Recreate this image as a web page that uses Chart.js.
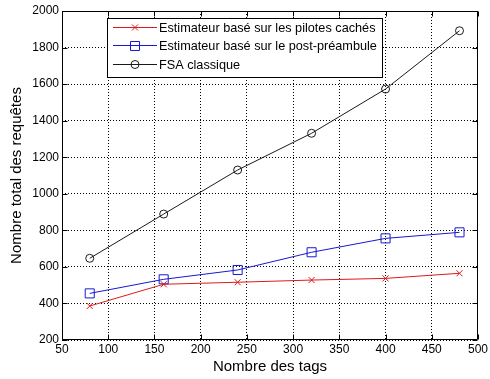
<!DOCTYPE html>
<html>
<head>
<meta charset="utf-8">
<script src="https://cdn.jsdelivr.net/npm/chart.js@4/dist/chart.umd.min.js"></script>
<style>
html,body{margin:0;padding:0;background:#fff;}
canvas{display:block;}
</style>
</head>
<body>
<canvas id="c" width="490" height="379"></canvas>
<script>
const tags = [80, 160, 240, 320, 400, 480];
const pilotesCaches = [386, 505, 516, 528, 537, 565];
const postPreambule = [455, 532, 583, 680, 756, 789];
const fsaClassique = [647, 889, 1130, 1331, 1573, 1892];
const xTicks = [50, 100, 150, 200, 250, 300, 350, 400, 450, 500];
const yTicks = [200, 400, 600, 800, 1000, 1200, 1400, 1600, 1800, 2000];
const seriesLabels = [
  'Estimateur basé sur les pilotes cachés',
  'Estimateur basé sur le post-préambule',
  'FSA classique'
];
const xTitle = 'Nombre des tags';
const yTitle = 'Nombre total des requêtes';

const FONT = "'Liberation Sans', Arial, sans-serif";

function pts(vals){ return tags.map((t,i)=>({x:t, y:vals[i]})); }

function drawMarker(ctx, style, x, y, color){
  ctx.save();
  ctx.strokeStyle = color; ctx.lineWidth = 1;
  ctx.beginPath();
  if (style === 'crossRot') {
    const s = 3;
    ctx.moveTo(x-s,y-s); ctx.lineTo(x+s,y+s);
    ctx.moveTo(x+s,y-s); ctx.lineTo(x-s,y+s);
  } else if (style === 'rect') {
    ctx.rect(Math.round(x)-4.5, Math.round(y)-4.5, 9, 9);
  } else {
    ctx.arc(x, y, 4, 0, Math.PI*2);
  }
  ctx.stroke();
  ctx.restore();
}

const framePlugin = {
  id: 'frame',
  afterDraw(chart){
    const ctx = chart.ctx;
    const a = chart.chartArea;
    const xs = chart.scales.x, ys = chart.scales.y;
    ctx.save();
    ctx.strokeStyle = '#000';
    ctx.lineWidth = 1;
    ctx.beginPath();
    const L = Math.round(a.left)+0.5, R = Math.round(a.right)-0.5, T = Math.round(a.top)+0.5, B = Math.round(a.bottom)-0.5;
    ctx.rect(L, T, R-L, B-T);
    const tl = 5;
    xTicks.forEach(v=>{
      const px = Math.round(xs.getPixelForValue(v))+0.5;
      ctx.moveTo(px, B); ctx.lineTo(px, B-tl);
      ctx.moveTo(px, T); ctx.lineTo(px, T+tl);
    });
    yTicks.forEach(v=>{
      const py = Math.round(ys.getPixelForValue(v))+0.5;
      ctx.moveTo(L, py); ctx.lineTo(L+tl, py);
      ctx.moveTo(R, py); ctx.lineTo(R-tl, py);
    });
    ctx.stroke();

    // legend
    const lx = 107.5, ly = 18.5, lw = 275, lh = 59;
    ctx.fillStyle = '#fff';
    ctx.fillRect(lx, ly, lw, lh);
    ctx.strokeRect(lx, ly, lw, lh);
    const rows = [27.5, 45.5, 64.5];
    ctx.font = '12.7px ' + FONT;
    ctx.textBaseline = 'middle';
    ctx.textAlign = 'left';
    chart.data.datasets.forEach((ds, i)=>{
      const y = rows[i];
      ctx.strokeStyle = ds.borderColor;
      ctx.lineWidth = 1;
      ctx.beginPath();
      ctx.moveTo(113, y); ctx.lineTo(157, y);
      ctx.stroke();
      drawMarker(ctx, ds.pointStyle, 135, y, ds.borderColor);
      ctx.fillStyle = '#000';
      ctx.fillText(ds.label, 159, y + 0.5);
    });
    ctx.restore();
  }
};

new Chart(document.getElementById('c'), {
  type: 'line',
  data: {
    datasets: [
      { label: seriesLabels[0], data: pts(pilotesCaches), borderColor: '#e01818', pointStyle: 'crossRot', pointRadius: 4.3 },
      { label: seriesLabels[1], data: pts(postPreambule), borderColor: '#1818d0', pointStyle: 'rect', pointRadius: 6.4 },
      { label: seriesLabels[2], data: pts(fsaClassique), borderColor: '#1a1a1a', pointStyle: 'circle', pointRadius: 4 }
    ].map(d => Object.assign({
      borderWidth: 1, pointBorderWidth: 1, pointBackgroundColor: 'rgba(0,0,0,0)',
      pointBorderColor: d.borderColor, tension: 0, fill: false, pointHoverRadius: d.pointRadius
    }, d))
  },
  options: {
    responsive: false,
    devicePixelRatio: 1,
    animation: false,
    events: [],
    layout: { padding: { top: 11, right: 10, left: 0, bottom: 0 } },
    plugins: { legend: { display: false }, tooltip: { enabled: false } },
    scales: {
      x: {
        type: 'linear', min: 50, max: 500,
        afterFit: s => { s.height = 39; },
        afterBuildTicks: s => { s.ticks = xTicks.map(v=>({value:v})); },
        ticks: { color: '#000', font: { family: FONT, size: 12 }, padding: 2, maxRotation: 0, autoSkip: false, callback: v => String(v) },
        grid: { color: '#000', lineWidth: 1, drawTicks: false },
        border: { display: false, dash: [1,2] },
        title: { display: true, text: xTitle, color: '#000', font: { family: FONT, size: 15 }, padding: { top: 0, bottom: 3 } }
      },
      y: {
        type: 'linear', min: 200, max: 2000,
        afterFit: s => { s.width = 62; },
        afterBuildTicks: s => { s.ticks = yTicks.map(v=>({value:v})); },
        ticks: { color: '#000', font: { family: FONT, size: 12 }, padding: 3, autoSkip: false, callback: v => String(v) },
        grid: { color: '#000', lineWidth: 1, drawTicks: false },
        border: { display: false, dash: [1,2] },
        title: { display: true, text: yTitle, color: '#000', font: { family: FONT, size: 15 }, padding: { top: 8, bottom: 0 } }
      }
    }
  },
  plugins: [framePlugin]
});
</script>
</body>
</html>
